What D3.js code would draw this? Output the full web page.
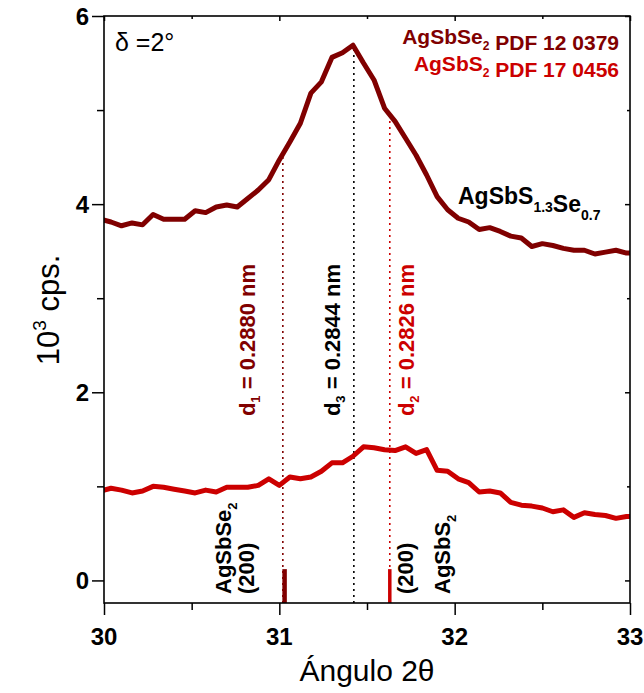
<!DOCTYPE html>
<html><head><meta charset="utf-8">
<script src="https://cdn.jsdelivr.net/npm/d3@7"></script>
<style>
body{margin:0;background:#fff}
svg{display:block}
text{font-family:"Liberation Sans",Arial,sans-serif}
</style>
</head><body>
<svg id="c" width="644" height="693"></svg>
<script>
// ---- data ----
const twoTheta = [29.98,30.04,30.10,30.16,30.22,30.28,30.34,30.40,30.46,30.52,30.58,30.64,30.70,30.76,30.82,30.88,30.94,31.00,31.06,31.12,31.18,31.24,31.30,31.36,31.42,31.48,31.54,31.60,31.66,31.72,31.78,31.84,31.90,31.96,32.02,32.08,32.14,32.20,32.26,32.32,32.38,32.44,32.50,32.56,32.62,32.68,32.74,32.80,32.86,32.92,32.98,33.04];
const countsSSe = [3.84,3.81,3.77,3.80,3.78,3.89,3.84,3.84,3.84,3.93,3.91,3.97,3.99,3.97,4.06,4.15,4.26,4.47,4.66,4.86,5.18,5.30,5.56,5.61,5.69,5.50,5.32,5.02,4.88,4.70,4.52,4.31,4.08,3.94,3.85,3.81,3.73,3.75,3.71,3.66,3.64,3.55,3.58,3.56,3.53,3.51,3.51,3.47,3.49,3.51,3.48,3.48];
const countsS2 = [0.95,0.98,0.96,0.93,0.95,1.00,0.99,0.97,0.95,0.93,0.96,0.94,0.99,0.99,0.99,1.01,1.08,1.01,1.10,1.08,1.10,1.16,1.25,1.25,1.32,1.42,1.41,1.39,1.38,1.42,1.35,1.39,1.17,1.16,1.08,1.04,0.94,0.95,0.93,0.83,0.80,0.79,0.77,0.73,0.75,0.67,0.72,0.70,0.69,0.66,0.68,0.68];
const refNames = ["AgSbSe2","AgSbS2"];
const refPos = [31.03, 31.63];
const refHeight = [0.12, 0.12];
const dLabels = ["d1 = 0.2880 nm","d3 = 0.2844 nm","d2 = 0.2826 nm"];
const dPos = [31.02, 31.425, 31.63];
const dTop = [4.50, 5.69, 4.93];
const xTicks = [30,31,32,33];
const yTicks = [0,2,4,6];

const DARK = "#800000", RED = "#cc0000";
const svg = d3.select("#c");
const L=104, R=630, T=16, B=603;
const x = d3.scaleLinear().domain([30,33]).range([L,R]);
const y = d3.scaleLinear().domain([-0.24,6]).range([B,T]);

svg.append("defs").append("clipPath").attr("id","pc")
  .append("rect").attr("x",L).attr("y",T).attr("width",R-L).attr("height",B-T);

// dotted lines
const dColors=[DARK,"#000",RED];
dPos.forEach((p,i)=>{
  svg.append("line").attr("x1",x(p)).attr("x2",x(p)).attr("y1",B).attr("y2",y(dTop[i]))
    .attr("stroke",dColors[i]).attr("stroke-width",1.6).attr("stroke-dasharray","2,4");
});

// reference bars
const refCol=[DARK,RED], refW=[4.5,3.5];
refPos.forEach((p,i)=>{
  svg.append("line").attr("x1",x(p)).attr("x2",x(p)).attr("y1",y(-0.24)).attr("y2",y(refHeight[i]))
   .attr("stroke",refCol[i]).attr("stroke-width",refW[i]);
});

// curves
const line = d3.line().x((d,i)=>x(twoTheta[i])).y(d=>y(d));
const g = svg.append("g").attr("clip-path","url(#pc)");
g.append("path").attr("d",line(countsS2)).attr("fill","none").attr("stroke",RED).attr("stroke-width",5).attr("stroke-linejoin","round");
g.append("path").attr("d",line(countsSSe)).attr("fill","none").attr("stroke",DARK).attr("stroke-width",5).attr("stroke-linejoin","round");

// axes
const xb = svg.append("g").attr("transform",`translate(0,${B})`)
  .call(d3.axisBottom(x).tickValues(d3.range(30,33.01,0.5)).tickSize(12).tickFormat(""));
xb.selectAll(".tick line").attr("y2",d=>Number.isInteger(d)?12:7);
const xt = svg.append("g").attr("transform",`translate(0,${T})`)
  .call(d3.axisTop(x).tickValues(d3.range(30,33.01,0.5)).tickSize(-5).tickFormat(""));
xt.selectAll(".tick line").attr("y2",d=>Number.isInteger(d)?5:3);
const yl = svg.append("g").attr("transform",`translate(${L},0)`)
  .call(d3.axisLeft(y).tickValues([0,1,2,3,4,5,6]).tickSize(12).tickFormat(""));
yl.selectAll(".tick line").attr("x2",d=>d%2===0?-12:-7);
const yr = svg.append("g").attr("transform",`translate(${R},0)`)
  .call(d3.axisRight(y).tickValues([0,1,2,3,4,5,6]).tickSize(-5).tickFormat(""));
yr.selectAll(".tick line").attr("x2",d=>d%2===0?-5:-3);
[xb,xt,yl,yr].forEach(a=>{a.select(".domain").remove(); a.selectAll(".tick line").attr("stroke","#000").attr("stroke-width",1.5);});
svg.append("rect").attr("x",L).attr("y",T).attr("width",R-L).attr("height",B-T)
  .attr("fill","none").attr("stroke","#000").attr("stroke-width",1.6);

// tick labels
xTicks.forEach(v=>svg.append("text").attr("x",x(v)).attr("y",645).attr("text-anchor","middle")
  .attr("font-size",24).attr("font-weight","bold").text(v));
yTicks.forEach(v=>svg.append("text").attr("x",89).attr("y",y(v)+8.5).attr("text-anchor","end")
  .attr("font-size",24).attr("font-weight","bold").text(v));

// axis titles
svg.append("text").attr("x",367).attr("y",681).attr("text-anchor","middle").attr("font-size",30).text("Ángulo 2θ");
const yt = svg.append("text").attr("transform","translate(59,310) rotate(-90)").attr("text-anchor","middle").attr("font-size",31);
yt.append("tspan").text("10");
yt.append("tspan").attr("font-size",19).attr("dy",-13).text("3");
yt.append("tspan").attr("dy",13).text(" cps.");

// delta
svg.append("text").attr("x",115).attr("y",51).attr("font-size",25).text("δ =2°");

// legend
function subText(sel, parts, subSize, shift){
  parts.forEach(p=>{
    if(p.sub){ sel.append("tspan").attr("font-size",subSize).attr("dy",shift).text(p.t);
               sel.append("tspan").attr("dy",-shift).text(""); }
    else sel.append("tspan").text(p.t);
  });
}
const lg1 = svg.append("text").attr("x",619).attr("y",44).attr("text-anchor","end").attr("font-size",21).attr("font-weight","bold").attr("fill",DARK);
subText(lg1,[{t:"AgSbSe"},{t:"2",sub:true},{t:" PDF 12 0379"}],12,6);
const lg2 = svg.append("text").attr("x",619).attr("y",71).attr("text-anchor","end").attr("font-size",21).attr("font-weight","bold").attr("fill",RED);
subText(lg2,[{t:"AgSbS"},{t:"2",sub:true},{t:" PDF 17 0456"}],12,6);

// sample label
const sl = svg.append("text").attr("x",458).attr("y",204).attr("font-size",23).attr("font-weight","bold").attr("fill","#000");
subText(sl,[{t:"AgSbS"},{t:"1.3",sub:true},{t:"Se"},{t:"0.7",sub:true}],14,8);

// d labels (rotated)
const dLx=[255,340,414];
dLabels.forEach((s,i)=>{
  const t = svg.append("text").attr("transform",`translate(${dLx[i]},340) rotate(-90)`).attr("text-anchor","middle")
    .attr("font-size",22).attr("font-weight","bold").attr("fill",dColors[i]);
  t.append("tspan").text(s.slice(0,1));
  t.append("tspan").attr("font-size",13).attr("dy",5).text(s.slice(1,2));
  t.append("tspan").attr("dy",-5).text(s.slice(2));
});

// reference labels (rotated)
function rotLabel(xb, parts, anchorY){
  const t = svg.append("text").attr("transform",`translate(${xb},${anchorY}) rotate(-90)`).attr("font-size",22).attr("font-weight","bold").attr("fill","#000");
  subText(t, parts, 13, 6);
}
rotLabel(231,[{t:"AgSbSe"},{t:"2",sub:true}],594);
rotLabel(254,[{t:"(200)"}],594);
rotLabel(413,[{t:"(200)"}],594);
rotLabel(450,[{t:"AgSbS"},{t:"2",sub:true}],594);
</script>
</body></html>
